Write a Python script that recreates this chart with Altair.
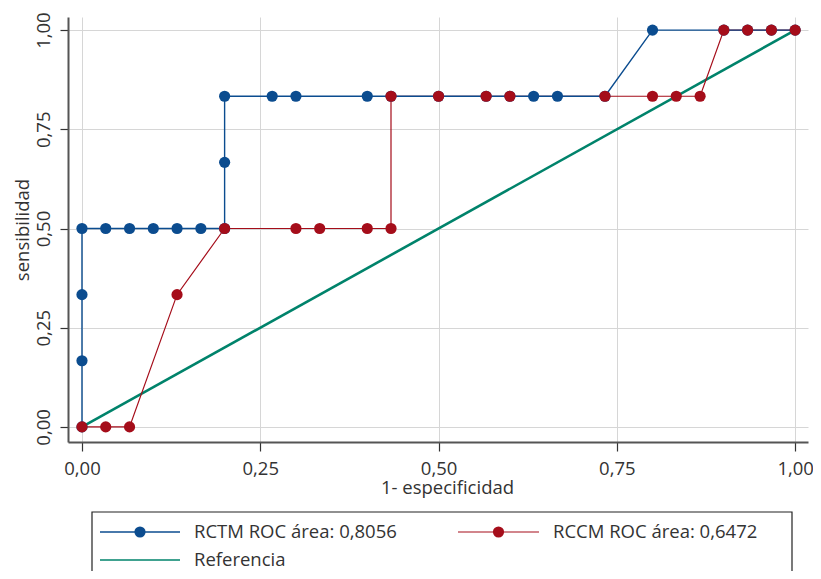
import altair as alt
import pandas as pd

# ROC data (1 - specificity, sensitivity)
rctm_x = [0, 0, 0, 0, 0.0333, 0.0667, 0.1, 0.1333, 0.1667, 0.2, 0.2, 0.2, 0.2667, 0.3, 0.4,
          0.4333, 0.5, 0.5667, 0.6, 0.6333, 0.6667, 0.7333, 0.8, 0.9, 0.9333, 0.9667, 1.0]
rctm_y = [0, 0.1667, 0.3333, 0.5, 0.5, 0.5, 0.5, 0.5, 0.5, 0.5, 0.6667, 0.8333, 0.8333, 0.8333, 0.8333,
          0.8333, 0.8333, 0.8333, 0.8333, 0.8333, 0.8333, 0.8333, 1.0, 1.0, 1.0, 1.0, 1.0]
rccm_x = [0, 0.0333, 0.0667, 0.1333, 0.2, 0.3, 0.3333, 0.4, 0.4333, 0.4333, 0.5, 0.5667, 0.6,
          0.7333, 0.8, 0.8333, 0.8667, 0.9, 0.9333, 0.9667, 1.0]
rccm_y = [0, 0, 0, 0.3333, 0.5, 0.5, 0.5, 0.5, 0.5, 0.8333, 0.8333, 0.8333, 0.8333,
          0.8333, 0.8333, 0.8333, 0.8333, 1.0, 1.0, 1.0, 1.0]
ref_x = [0, 1]
ref_y = [0, 1]

x_ticks = [0, 0.25, 0.5, 0.75, 1.0]
y_ticks = [0, 0.25, 0.5, 0.75, 1.0]
legend_labels = ["RCTM ROC área: 0,8056", "RCCM ROC área: 0,6472", "Referencia"]

BLUE = "#0b4c8f"
RED = "#a50d1a"
GREEN = "#00836b"
FONT = "Open Sans"
FS = 18.5

blue_df = pd.DataFrame({"x": rctm_x, "y": rctm_y, "i": range(len(rctm_x))})
red_df = pd.DataFrame({"x": rccm_x, "y": rccm_y, "i": range(len(rccm_x))})
ref_df = pd.DataFrame({"x": ref_x, "y": ref_y, "i": range(len(ref_x))})

label_expr = "replace(format(datum.value, '.2f'), '.', ',')"

xscale = alt.Scale(domain=[-0.0196, 1.018], nice=False, zero=False)
yscale = alt.Scale(domain=[-0.038, 1.033], nice=False, zero=False)

xenc = alt.X("x:Q", scale=xscale, axis=alt.Axis(
    values=x_ticks, labelExpr=label_expr, title="1- especificidad",
    tickSize=9, labelPadding=8, titlePadding=1, labelFontSize=FS, titleFontSize=FS,
    titleX=379, titleAlign="center", labelFlush=False))
yenc = alt.Y("y:Q", scale=yscale, axis=alt.Axis(
    values=y_ticks, labelExpr=label_expr, title="sensibilidad",
    tickSize=8, labelPadding=7, titlePadding=2, labelFontSize=FS, titleFontSize=FS,
    labelAngle=270, labelAlign="center", labelBaseline="bottom", labelFlush=False))

ref_line = alt.Chart(ref_df).mark_line(color=GREEN, strokeWidth=2.6).encode(
    x=xenc, y=yenc, order="i:O")
blue_line = alt.Chart(blue_df).mark_line(color=BLUE, strokeWidth=1.4).encode(
    x="x:Q", y="y:Q", order="i:O")
blue_pts = alt.Chart(blue_df).mark_circle(color=BLUE, size=125, opacity=1).encode(
    x="x:Q", y="y:Q")
red_line = alt.Chart(red_df).mark_line(color=RED, strokeWidth=1.2).encode(
    x="x:Q", y="y:Q", order="i:O")
red_pts = alt.Chart(red_df).mark_circle(color=RED, size=125, opacity=1).encode(
    x="x:Q", y="y:Q")

# manual legend below plot (box bottom runs off the picture, as in the reference)
one = lambda d: alt.Data(values=[d])
box = alt.Chart(one({})).mark_rect(fill="white", stroke="#222", strokeWidth=1.2).encode(
    x=alt.value(24), x2=alt.value(724), y=alt.value(495), y2=alt.value(620))
leg = [box]
items = [
    (legend_labels[0], BLUE, 1.4, True, 32, 112, 515),
    (legend_labels[1], RED, 1.2, True, 390, 471, 515),
    (legend_labels[2], GREEN, 1.6, False, 32, 112, 543),
]
for lab, col, sw, dot, x0, x1, yy in items:
    leg.append(alt.Chart(one({"l": lab})).mark_rule(color=col, strokeWidth=sw).encode(
        x=alt.value(x0), x2=alt.value(x1), y=alt.value(yy)))
    if dot:
        leg.append(alt.Chart(one({"l": lab})).mark_circle(color=col, size=125, opacity=1).encode(
            x=alt.value((x0 + x1) / 2), y=alt.value(yy)))
    leg.append(alt.Chart(one({"l": lab})).mark_text(
        align="left", baseline="middle", fontSize=FS, font=FONT, color="#333").encode(
        x=alt.value(x1 + 14), y=alt.value(yy), text="l:N"))

chart = alt.layer(ref_line, red_line, blue_line, blue_pts, red_pts, *leg).properties(
    width=740, height=425, background="white",
    autosize=alt.AutoSizeParams(type="none"),
    padding={"left": 60, "top": 9, "right": 5, "bottom": 129},
).configure_view(stroke=None).configure_axis(
    grid=True, gridColor="#d6d6d6", gridWidth=1,
    domainColor="#555", domainWidth=2, tickColor="#333", tickWidth=1.2,
    labelColor="#333", titleColor="#333", labelFont=FONT, titleFont=FONT,
    titleFontWeight="normal"
)

chart.save("out.html", embed_options={"renderer": "svg", "actions": False})
